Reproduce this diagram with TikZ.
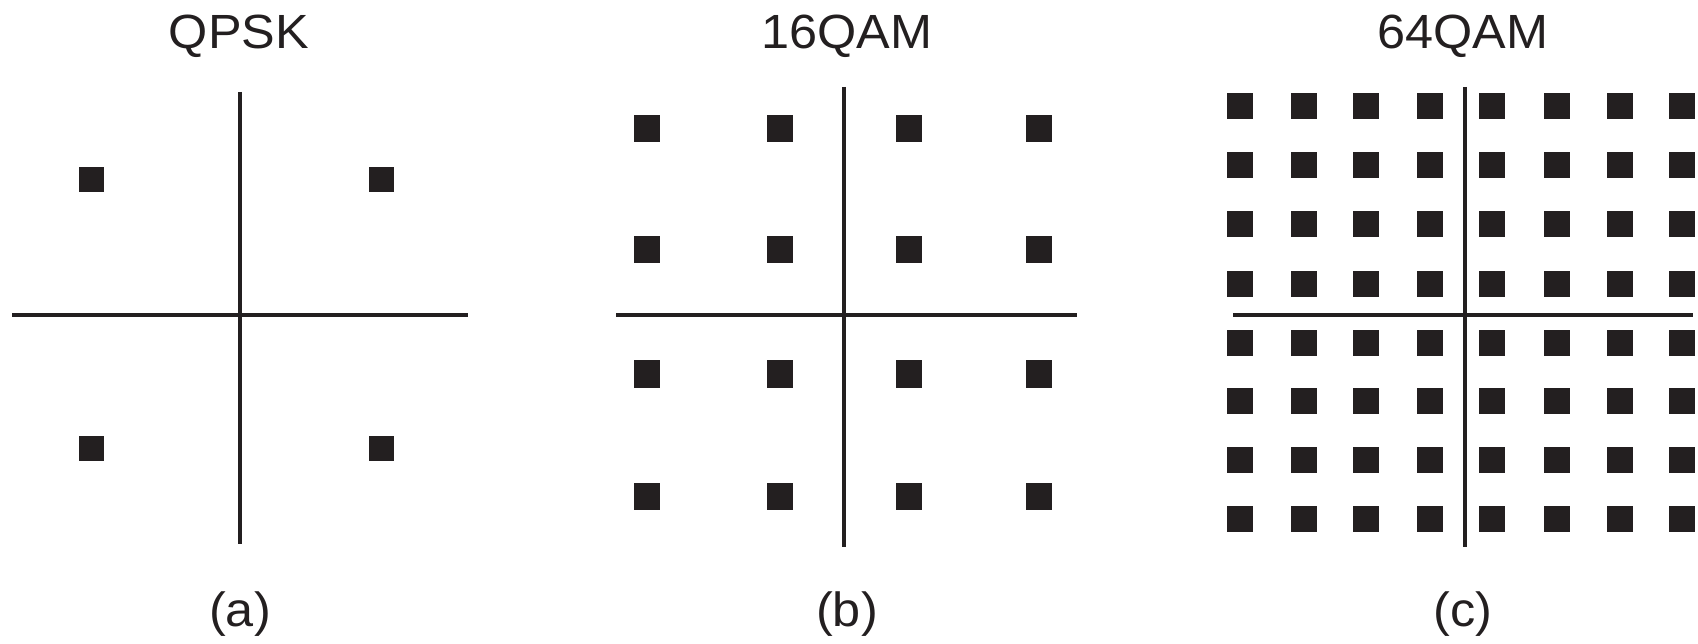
\documentclass[tikz,border=0pt]{standalone}
\usepackage{fontspec}
\setmainfont{Liberation Sans}
\definecolor{ink}{HTML}{231F20}
\tikzset{
  axis/.style={draw=ink, line width=3.2pt},
  caption/.style={text=ink, font=\fontsize{48}{52}\selectfont, inner sep=0pt, xscale=1.05, anchor=base},
}
\begin{document}
\begin{tikzpicture}[x=1pt, y=-1pt]
  \useasboundingbox (0,0) rectangle (1698,644);
  \clip (0,0) rectangle (1698,644);

  % (a) QPSK
  \node[caption] (ta) at (239,49) {QPSK};
  \node[caption] (la) at (240,626) {(a)};
  \draw[axis] (240,92) -- (240,544);
  \draw[axis] (12,315) -- (468,315);
  \foreach \x in {91.5,381}
    \foreach \y in {180,448}
      \fill[ink] (\x-12.5,\y-12.5) rectangle ++(25,25);

  % (b) 16QAM
  \node[caption] (tb) at (847,49) {16QAM};
  \node[caption] (lb) at (847,626) {(b)};
  \draw[axis] (844,87) -- (844,547);
  \draw[axis] (616,315) -- (1077,315);
  \foreach \x in {647,779.5,909,1039}
    \foreach \y in {129,250,374,496}
      \fill[ink] (\x-13,\y-13.5) rectangle ++(26,27);

  % (c) 64QAM
  \node[caption] (tc) at (1463,49) {64QAM};
  \node[caption] (lc) at (1463,626) {(c)};
  \foreach \x in {1240,1304,1366,1430,1492,1557,1620,1682}
    \foreach \y in {106,165,224,284,343,401,460,519}
      \fill[ink] (\x-13,\y-13) rectangle ++(26,26);
  \draw[axis] (1465,87) -- (1465,547);
  \draw[axis] (1233,315) -- (1693,315);
\end{tikzpicture}
\end{document}
